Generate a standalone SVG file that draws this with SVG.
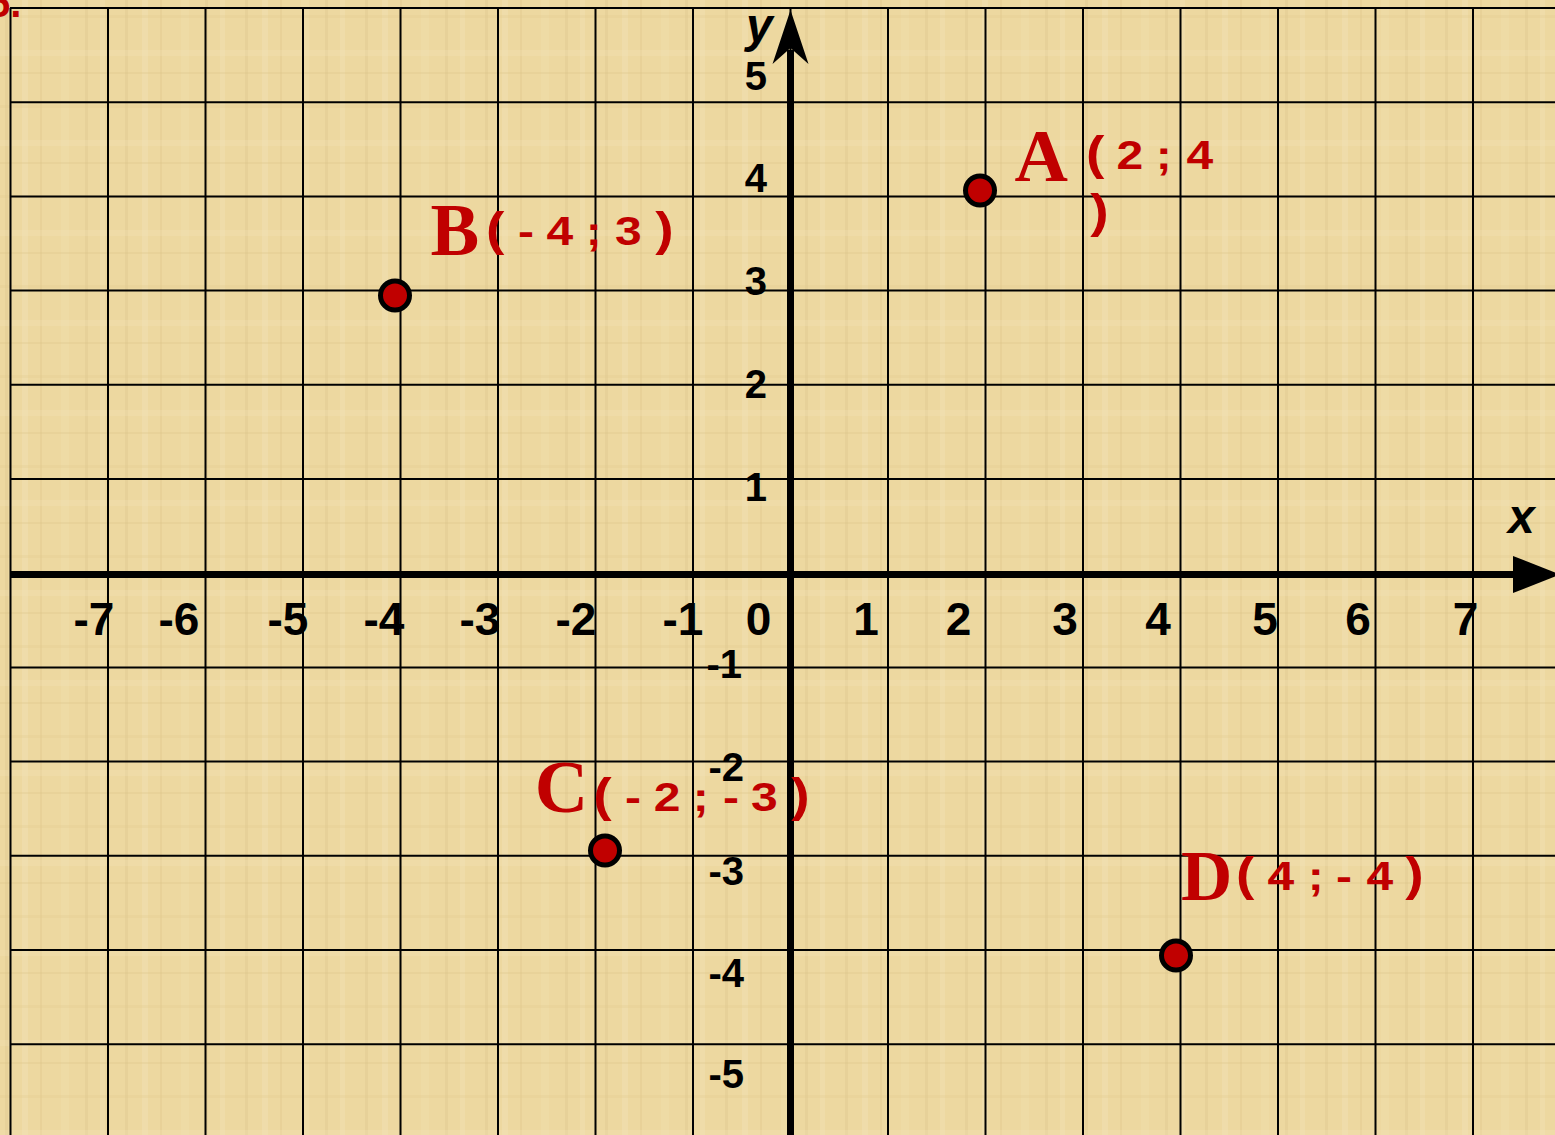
<svg xmlns="http://www.w3.org/2000/svg" width="1555" height="1135" viewBox="0 0 1555 1135">
  <defs>
    <pattern id="pap" width="120" height="90" patternUnits="userSpaceOnUse">
      <rect width="120" height="90" fill="#EDD8A0"/>
      <rect x="5" width="3" height="90" fill="#DDC287" opacity="0.3"/>
      <rect x="22" width="6" height="90" fill="#F6E7C0" opacity="0.3"/>
      <rect x="40" width="2" height="90" fill="#D6BA7E" opacity="0.25"/>
      <rect x="61" width="8" height="90" fill="#F3E1B2" opacity="0.3"/>
      <rect x="85" width="3" height="90" fill="#DCC187" opacity="0.3"/>
      <rect x="100" width="5" height="90" fill="#F5E6C2" opacity="0.25"/>
      <rect y="15" width="120" height="3" fill="#E0C78C" opacity="0.25"/>
      <rect y="50" width="120" height="6" fill="#F5E5BC" opacity="0.25"/>
      <rect y="72" width="120" height="2" fill="#D9BF84" opacity="0.25"/>
    </pattern>
    <style>
      .grid { stroke: #000; stroke-width: 2; fill: none; }
      .axis { stroke: #000; stroke-width: 7; fill: none; }
      .tick { font-family: "Liberation Sans", Arial, sans-serif; font-weight: bold; fill: #000; }
      .xt { font-size: 46px; text-anchor: middle; }
      .yt { font-size: 40px; text-anchor: end; }
      .axname { font-family: "Liberation Sans", Arial, sans-serif; font-weight: bold; font-style: italic; font-size: 48px; fill: #000; }
      .pt { fill: #C00000; stroke: #000; stroke-width: 5; }
      .letter { font-family: "Liberation Serif", "Times New Roman", serif; font-weight: bold; fill: #C00000; }
      .coord { font-family: "Liberation Sans", Arial, sans-serif; font-weight: bold; fill: #C00000; font-size: 40px; }
      .par { font-size: 46px; }
    </style>
  </defs>

  <g id="background">
    <rect width="1555" height="1135" fill="url(#pap)"/>
    <text x="-12" y="17" font-family="Liberation Sans, Arial, sans-serif" font-weight="bold" font-size="40" fill="#C00000">5.</text>
  </g>

  <g id="grid" class="grid">
    <path d="M10.5 8V1135M108 8V1135M205.5 8V1135M303 8V1135M400.5 8V1135M498 8V1135M595.5 8V1135M693 8V1135M790.5 8V1135M888 8V1135M985.5 8V1135M1083 8V1135M1180.5 8V1135M1278 8V1135M1375.5 8V1135M1473 8V1135"/>
    <path d="M10 8H1555M10 102.2H1555M10 196.4H1555M10 290.6H1555M10 384.8H1555M10 479H1555M10 667.4H1555M10 761.6H1555M10 855.8H1555M10 950H1555M10 1044.2H1555"/>
  </g>

  <g id="connectors">
    <path class="axis" d="M10 574.5H1516"/>
    <polygon points="1513,556 1560,574.5 1513,593" fill="#000"/>
    <path class="axis" d="M790.5 50V1135"/>
    <polygon points="790.5,10 808.5,64 790.5,48 772.5,64" fill="#000"/>
  </g>

  <g id="axis-labels">
    <text class="axname" x="1508" y="533">x</text>
    <text class="axname" x="746" y="42">y</text>
    <g class="tick xt">
      <text x="94" y="635">-7</text>
      <text x="179" y="635">-6</text>
      <text x="288" y="635">-5</text>
      <text x="384" y="635">-4</text>
      <text x="480" y="635">-3</text>
      <text x="576" y="635">-2</text>
      <text x="683" y="635">-1</text>
      <text x="758.5" y="635">0</text>
      <text x="866" y="635">1</text>
      <text x="958.5" y="635">2</text>
      <text x="1065" y="635">3</text>
      <text x="1158" y="635">4</text>
      <text x="1265" y="635">5</text>
      <text x="1358" y="635">6</text>
      <text x="1465.5" y="635">7</text>
    </g>
    <g class="tick yt">
      <text x="767" y="90">5</text>
      <text x="767" y="192">4</text>
      <text x="767" y="295">3</text>
      <text x="767" y="398">2</text>
      <text x="767" y="501">1</text>
      <text x="742" y="678">-1</text>
      <text x="744" y="781">-2</text>
      <text x="744" y="885">-3</text>
      <text x="744" y="987">-4</text>
      <text x="744" y="1088">-5</text>
    </g>
  </g>

  <g id="node-A">
    <circle class="pt" cx="980" cy="190.5" r="14.5"/>
    <text class="letter" x="1014.5" y="181" font-size="74">A</text>
    <text class="coord" transform="scale(1.2 1)"><tspan class="par" x="905" y="169">(</tspan> <tspan x="930.5" y="169">2</tspan> <tspan x="963.2" y="169">;</tspan> <tspan x="988.7" y="169">4</tspan> <tspan class="par" x="908.6" y="227">)</tspan></text>
  </g>

  <g id="node-B">
    <circle class="pt" cx="395" cy="295.5" r="14.5"/>
    <text class="letter" x="430.5" y="255" font-size="73">B</text>
    <text class="coord" transform="scale(1.2 1)" y="245"><tspan class="par" x="405.1">(</tspan> <tspan x="431.75">-</tspan> <tspan x="455.4">4</tspan> <tspan x="488.2">;</tspan> <tspan x="512.6">3</tspan> <tspan class="par" x="546.1">)</tspan></text>
  </g>

  <g id="node-C">
    <circle class="pt" cx="605" cy="850.5" r="14.5"/>
    <text class="letter" x="534.7" y="812" font-size="74">C</text>
    <text class="coord" transform="scale(1.2 1)" y="811"><tspan class="par" x="494.3">(</tspan> <tspan x="520.9">-</tspan> <tspan x="544.7">2</tspan> <tspan x="577.3">;</tspan> <tspan x="602.6">-</tspan> <tspan x="625.9">3</tspan> <tspan class="par" x="659.4">)</tspan></text>
  </g>

  <g id="node-D">
    <circle class="pt" cx="1176" cy="955.5" r="14.5"/>
    <text class="letter" x="1181" y="900" font-size="71">D</text>
    <text class="coord" transform="scale(1.2 1)" y="890"><tspan class="par" x="1030.1">(</tspan> <tspan x="1056.25">4</tspan> <tspan x="1089.8">;</tspan> <tspan x="1113.4">-</tspan> <tspan x="1138.75">4</tspan> <tspan class="par" x="1171.1">)</tspan></text>
  </g>
</svg>
